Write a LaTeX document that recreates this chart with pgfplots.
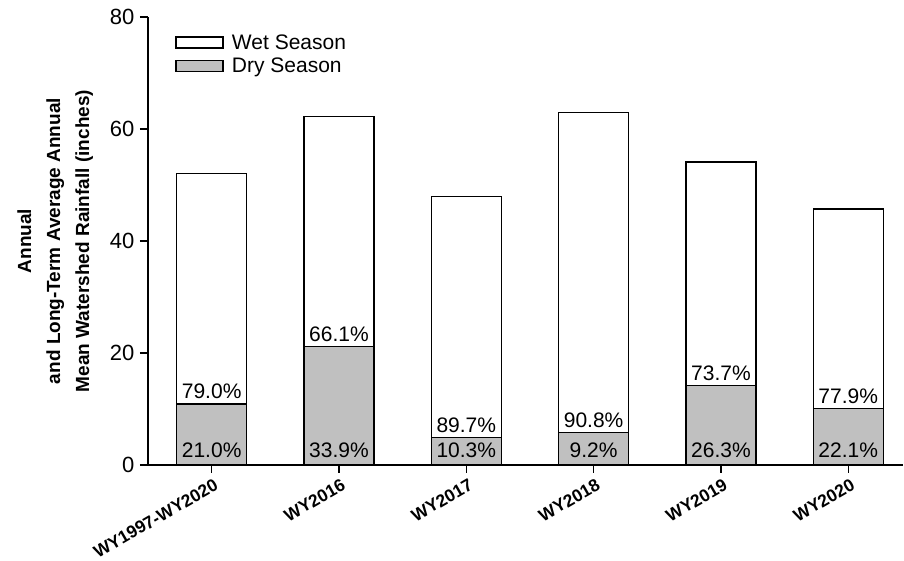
\documentclass[border=0pt]{standalone}
\usepackage{fontspec}
\setmainfont{Liberation Sans}
\usepackage{pgfplots}
\pgfplotsset{compat=1.18}
\definecolor{dryfill}{RGB}{192,192,192}
\begin{document}
\begin{tikzpicture}
\begin{axis}[
  name=main,
  scale only axis, width=755pt, height=448pt,
  xmin=-0.5, xmax=5.43, ymin=0, ymax=80,
  axis x line*=bottom, axis y line*=left,
  axis line style={-, line width=1.2pt},
  tick style={line width=1.2pt, black},
  tick align=outside, major tick length=8pt,
  ytick={0,20,40,60,80},
  xtick={0,1,2,3,4,5},
  xticklabels={WY1997-WY2020,WY2016,WY2017,WY2018,WY2019,WY2020},
  xticklabel style={rotate=30, anchor=north east, font=\fontsize{17.5}{20}\selectfont\bfseries, inner sep=1pt, yshift=-4pt},
  yticklabel style={font=\fontsize{22}{26}\selectfont, xshift=-2pt},
  /pgf/number format/assume math mode=true,
  ylabel={Annual\\and Long-Term Average Annual\\Mean Watershed Rainfall (inches)},
  ylabel style={at={(axis description cs:-0.123,0.5)}, anchor=center, rotate=0, align=center, font=\fontsize{19}{29}\selectfont\bfseries},
  ybar stacked, bar width=70pt,
  reverse legend,
  legend cell align=left,
  legend style={draw=none, fill=none, at={(axis description cs:0.036,0.966)}, anchor=north west, font=\fontsize{21}{24}\selectfont, row sep=3pt, inner sep=0pt},
  legend image code/.code={\draw[#1, line width=1.2pt] (0pt,-5.5pt) rectangle (47pt,5.5pt); \path[draw=none, fill=none] (0pt,0pt) (54pt,0pt);},
  clip=false,
]
\addplot[fill=dryfill, draw=black, line width=1.2pt] coordinates {(0,10.9) (1,21.1) (2,4.95) (3,5.8) (4,14.2) (5,10.1)};
\addlegendentry{Dry Season}
\addplot[fill=white, draw=black, line width=1.2pt] coordinates {(0,41.1) (1,41.2) (2,43.05) (3,57.2) (4,39.9) (5,35.6)};
\addlegendentry{Wet Season}
\end{axis}
\begin{axis}[
  scale only axis, width=755pt, height=448pt,
  xmin=-0.5, xmax=5.43, ymin=0, ymax=80,
  hide axis, clip=false,
  point meta=explicit symbolic,
  nodes near coords,
  every node near coord/.append style={anchor=base, font=\fontsize{21}{24}\selectfont, inner sep=0pt},
]
\addplot[draw=none, mark=none, nodes near coords style={yshift=7pt}] coordinates {(0,0)[21.0\%] (1,0)[33.9\%] (2,0)[10.3\%] (3,0)[9.2\%] (4,0)[26.3\%] (5,0)[22.1\%]};
\addplot[draw=none, mark=none, nodes near coords style={yshift=5pt}] coordinates {(0,10.9)[79.0\%] (1,21.1)[66.1\%] (2,4.95)[89.7\%] (3,5.8)[90.8\%] (4,14.2)[73.7\%] (5,10.1)[77.9\%]};
\end{axis}
\pgfresetboundingbox
\path (-148pt,-96pt) rectangle (756pt,465pt);
\end{tikzpicture}
\end{document}
